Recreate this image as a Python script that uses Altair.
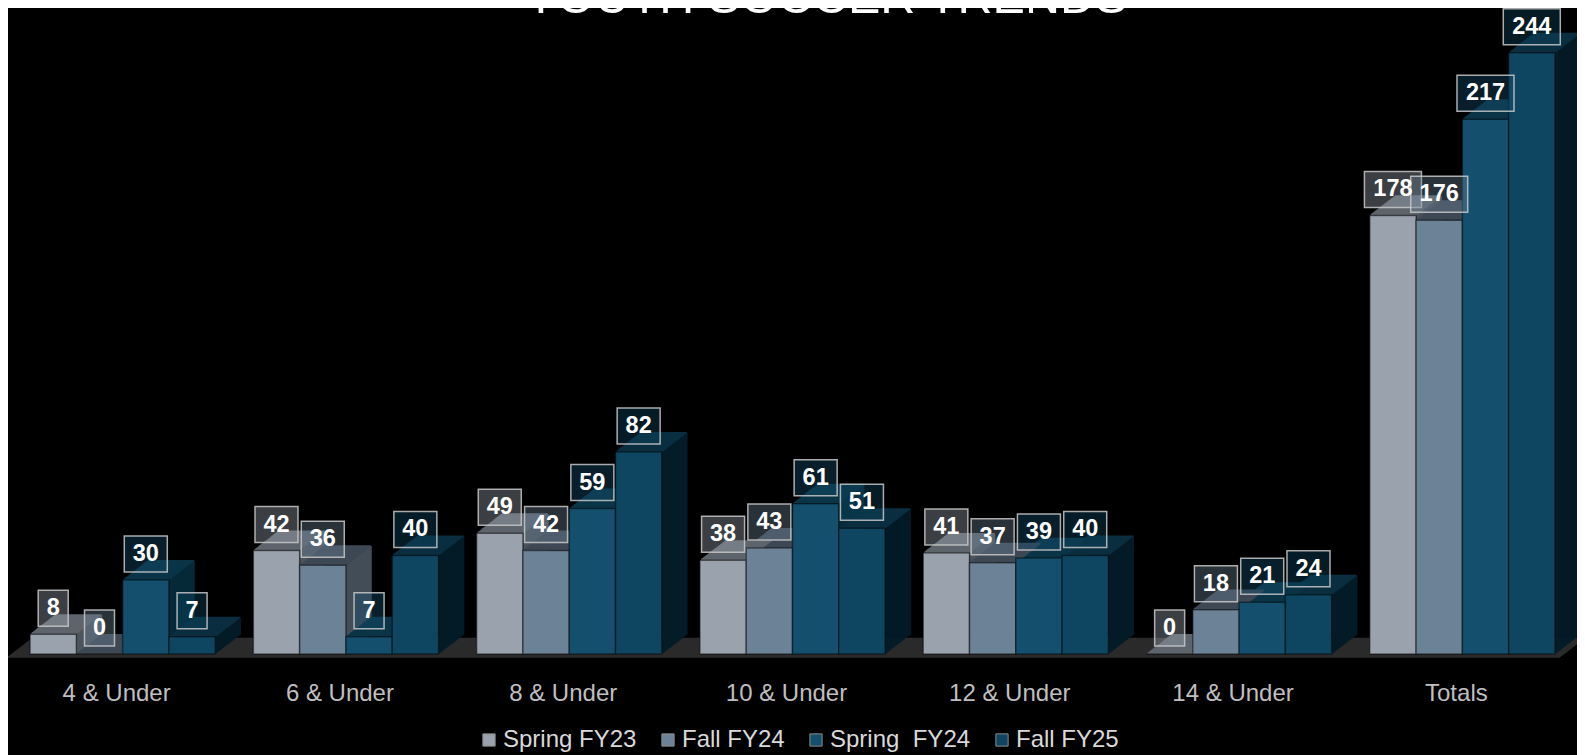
import altair as alt
import pandas as pd

# ---------------- data ----------------
categories = ["4 & Under", "6 & Under", "8 & Under", "10 & Under", "12 & Under", "14 & Under", "Totals"]
series = ["Spring FY23", "Fall FY24", "Spring\u00a0 FY24", "Fall FY25"]
spring_fy23 = [8, 42, 49, 38, 41, 0, 178]
fall_fy24 = [0, 36, 42, 43, 37, 18, 176]
spring_fy24 = [30, 7, 59, 61, 39, 21, 217]
fall_fy25 = [7, 40, 82, 51, 40, 24, 244]
title_text = ["YOUTH SOCCER TRENDS"]

# ---------------- styles ----------------
front_colors = ["#9aa3ad", "#6b8297", "#14506e", "#0e4661"]
top_colors = ["#5e656c", "#3e4955", "#0b3447", "#0a2f41"]
side_colors = ["#4d555d", "#45505b", "#082b3b", "#041c28"]
FONT = "Liberation Sans"
BW = 0.2073          # bar width in category units
DEPTH = 25           # 3D depth steps (px)
DY = 0.77            # vertical px per depth step

series_vals = [spring_fy23, fall_fy24, spring_fy24, fall_fy25]
rows = []
for gi, cat in enumerate(categories):
    for si, name in enumerate(series):
        rows.append({"category": cat, "series": name, "value": series_vals[si][gi], "gi": gi, "si": si})
df = pd.DataFrame(rows)
cat_df = pd.DataFrame({"category": categories, "gi": list(range(len(categories)))})

XS = alt.Scale(domain=[-0.5, 6.5], nice=False, zero=False)
YS = alt.Scale(domain=[0, 250], nice=False, zero=True)


def base():
    return alt.Chart(df).transform_calculate(
        x0=f"datum.gi + (datum.si - 2) * {BW}",
        x1=f"datum.gi + (datum.si - 1) * {BW}",
        xc=f"datum.gi + (datum.si - 1.5) * {BW}",
        nd="length(toString(datum.value))",
    )


def sc(rng):
    return alt.Scale(domain=series, range=rng)


# floor
floor_df = pd.DataFrame({"a": [0]})
floor_layers = []
for k in range(0, 25):
    floor_layers.append(
        alt.Chart(floor_df).mark_rule(
            color="#2b2b2b", strokeWidth=1.6,
            xOffset=-3 + k, x2Offset=-14 + k, yOffset=3 - DY * k,
        ).encode(
            x=alt.X(datum=-0.5, scale=XS, axis=None),
            x2=alt.datum(6.5),
            y=alt.Y(datum=0, scale=YS, axis=None),
        )
    )
floor = alt.layer(*floor_layers)

# side faces
side_layers = []
for k in range(1, DEPTH + 1):
    side_layers.append(
        base().mark_rule(strokeWidth=1.6, xOffset=k, yOffset=-DY * k, y2Offset=-DY * k).encode(
            x=alt.X("x1:Q", scale=XS, axis=None),
            y=alt.Y("value:Q", scale=YS, axis=None),
            y2=alt.datum(0),
            stroke=alt.Stroke("series:N", scale=sc(side_colors), legend=None),
        )
    )
sides = alt.layer(*side_layers)

# top faces
top_layers = []
for k in range(1, DEPTH + 1):
    top_layers.append(
        base().mark_rule(strokeWidth=1.6, xOffset=k, x2Offset=k, yOffset=-DY * k).encode(
            x=alt.X("x0:Q", scale=XS, axis=None),
            x2="x1:Q",
            y=alt.Y("value:Q", scale=YS, axis=None),
            stroke=alt.Stroke("series:N", scale=sc(top_colors), legend=None),
        )
    )
tops = alt.layer(*top_layers)

# front faces
fronts = base().mark_rect(stroke="black", strokeOpacity=0.45, strokeWidth=1.5).encode(
    x=alt.X("x0:Q", scale=XS, axis=None),
    x2="x1:Q",
    y=alt.Y("value:Q", scale=YS, axis=None),
    y2=alt.datum(0),
    color=alt.Color(
        "series:N", scale=sc(front_colors),
        legend=alt.Legend(
            title=None, orient="none", legendX=466, legendY=690, direction="horizontal",
            columns=4, symbolType="square", symbolSize=150, symbolStrokeColor="#8c8c8c",
            symbolStrokeWidth=1, symbolOpacity=1, labelFont=FONT, labelFontSize=24,
            labelColor="#d9d9d9", labelOffset=2, columnPadding=19, padding=0,
        ),
    ),
)

# label boxes
box_layers = []
for nd, hw in [(1, 15), (2, 21.5), (3, 28.5)]:
    box_layers.append(
        base().transform_filter(f"datum.nd == {nd}").mark_rect(
            xOffset=-hw, x2Offset=hw, yOffset=-44, y2Offset=-8,
            stroke="#c8c8c8", strokeOpacity=0.85, strokeWidth=1.5, fillOpacity=0.38,
        ).encode(
            x=alt.X("xc:Q", scale=XS, axis=None),
            x2="xc:Q",
            y=alt.Y("value:Q", scale=YS, axis=None),
            y2="value:Q",
            fill=alt.Fill("series:N", scale=sc(front_colors), legend=None),
        )
    )

label_text = base().mark_text(
    dy=-26, fontSize=23.5, fontWeight="bold", color="white", font=FONT,
    align="center", baseline="middle",
).encode(
    x=alt.X("xc:Q", scale=XS, axis=None),
    y=alt.Y("value:Q", scale=YS, axis=None),
    text="value:Q",
)

cat_text = alt.Chart(cat_df).mark_text(
    dy=40, dx=-6, fontSize=24, color="#bfbfbf", font=FONT, align="center", baseline="middle",
).encode(
    x=alt.X("gi:Q", scale=XS, axis=None),
    y=alt.Y(datum=0, scale=YS, axis=None),
    text="category:N",
)

title = alt.Chart(pd.DataFrame({"t": title_text})).mark_text(
    fontSize=48.5, color="white", font=FONT, align="center", baseline="alphabetic",
).encode(
    x=alt.value(815),
    y=alt.value(-25),
    text="t:N",
)

chart = alt.layer(
    floor, sides, tops, fronts, *box_layers, label_text, cat_text, title
).resolve_scale(stroke="independent").properties(
    width=1563,
    height=616,
    background="black",
    padding={"left": 3, "top": 30, "right": 3, "bottom": 112},
    autosize=alt.AutoSizeParams(type="none"),
).configure_view(stroke=None)

chart.save("out.html", embed_options={"renderer": "svg", "actions": False})
